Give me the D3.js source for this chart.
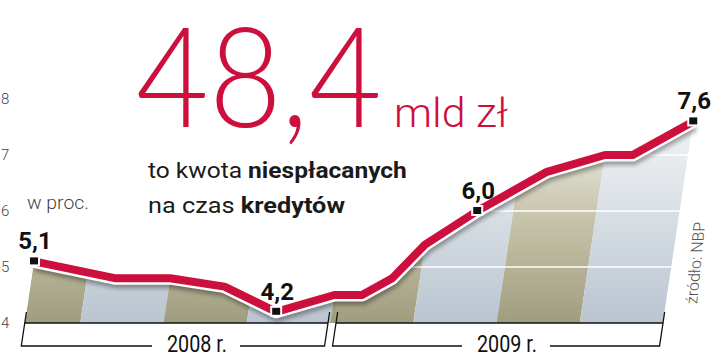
<!DOCTYPE html>
<html><head><meta charset="utf-8">
<script src="https://cdnjs.cloudflare.com/ajax/libs/d3/7.8.5/d3.min.js"></script>
<style>
html,body{margin:0;padding:0;background:#fff;} svg{display:block}
@font-face{font-family:"TitleLato";src:local("Lato Light"),local("Lato-Light"),local("Lato Regular"),local("Lato-Regular");
  font-weight:300;ascent-override:76%;descent-override:18%;line-gap-override:0%;}
</style>
</head><body>
<svg id="chart" width="720" height="357"></svg>
<script>
// ---- data ----
const months = [1, 4, 6, 8, 10, 12, 13, 14, 15, 16.7, 19, 21, 22, 24]; // month-ends counted from start of 2008
const values = [5.1, 4.8, 4.8, 4.65, 4.2, 4.5, 4.5, 4.8, 5.4, 6.0, 6.7, 7.0, 7.0, 7.6];
const labelIdx = [0, 4, 9, 13];
const labelText = ["5,1", "4,2", "6,0", "7,6"];
const yTicks = [4, 5, 6, 7, 8];
const gridValues = [5, 6, 7];
const quarterStarts = [1, 3, 6, 9, 12, 15, 18, 21];
const quarterEnds = [3, 6, 9, 12, 15, 18, 21, 24];
const years = ["2008 r.", "2009 r."];
const yearStart = [1, 12];
const yearEnd = [12, 24];
const titleValue = "48,4";
const titleUnit = "mld zł";
const unitLabel = "w proc.";
const sourceLabel = "źródło: NBP";

function draw() {
const svg = d3.select("#chart");
svg.selectAll("*").remove();
const y0 = 323, K = 0.15, RED = "#cc0f3c";
const x = d3.scaleLinear().domain([0, 24]).range([-3, 663]);
const y = d3.scaleLinear().domain([4, 8]).range([323, 99]);
const sx = (m, yy) => x(m) + K * (y0 - yy);
const pts = months.map((m, i) => ({ m, v: values[i] }));
const lineGen = d3.line().x(d => sx(d.m, y(d.v))).y(d => y(d.v));

// scale a text horizontally so that its width is w (start anchored at x)
function fit(sel, x0, yb, w) {
  const n = sel.node().getComputedTextLength();
  sel.attr("x", 0).attr("y", 0).attr("transform", `translate(${x0},${yb}) scale(${w / n},1)`);
  return sel;
}

const defs = svg.append("defs");
function grad(id, stops) {
  const g = defs.append("linearGradient").attr("id", id)
    .attr("gradientUnits", "userSpaceOnUse")
    .attr("x1", 0).attr("y1", y0).attr("x2", 0).attr("y2", y(7.9));
  stops.forEach(s => g.append("stop").attr("offset", s[0]).attr("stop-color", s[1]));
}
grad("olive", [[0, "#a09d7f"], [0.45, "#c4c1a7"], [1, "#f6f6f1"]]);
grad("blue", [[0, "#bac5d0"], [0.45, "#d5dce2"], [1, "#f7f8f9"]]);

const areaPts = pts.map(d => [sx(d.m, y(d.v)), y(d.v)]).concat([[x(24), y0], [x(1), y0]]);
defs.append("clipPath").attr("id", "areaClip")
  .append("path").attr("d", "M" + areaPts.map(p => p.join(",")).join("L") + "Z");

const f = defs.append("filter").attr("id", "blur").attr("x", "-10%").attr("y", "-20%").attr("width", "120%").attr("height", "140%");
f.append("feGaussianBlur").attr("stdDeviation", 2.2);

// columns
const yt = y(8.4);
const cols = svg.append("g").attr("clip-path", "url(#areaClip)");
quarterStarts.forEach((ms, i) => {
  const me = quarterEnds[i];
  const p = [[x(ms), y0], [x(me), y0], [sx(me, yt), yt], [sx(ms, yt), yt]];
  cols.append("path").attr("d", "M" + p.map(q => q.join(",")).join("L") + "Z")
    .attr("fill", i % 2 === 0 ? "url(#olive)" : "url(#blue)");
});
gridValues.forEach(v => {
  cols.append("line").attr("x1", 0).attr("x2", 720).attr("y1", y(v)).attr("y2", y(v))
    .attr("stroke", "#fff").attr("stroke-width", 1.6);
});

// axis line with break
const axisG = svg.append("g").attr("stroke", "#111").attr("fill", "none").attr("stroke-width", 1.5);
axisG.append("line").attr("x1", x(1)).attr("x2", x(12) - 2).attr("y1", y0).attr("y2", y0);
axisG.append("line").attr("x1", x(12) + 6).attr("x2", x(24)).attr("y1", y0).attr("y2", y0);

// year brackets
const yearLabelX = [197, 507];
const brY = 346, brTop = 312;
years.forEach((t, i) => {
  const xl = x(yearStart[i]) + (i === 1 ? 6 : 0);
  const xr = x(yearEnd[i]) - (i === 0 ? 2 : 0);
  const txt = svg.append("text").attr("font-family", "Roboto").attr("font-size", 24)
    .attr("fill", "#111").text(t);
  fit(txt, yearLabelX[i] - 30, 352, 60);
  const tl = yearLabelX[i] - 30 - 15, tr = yearLabelX[i] + 30 + 13;
  axisG.append("path").attr("d",
    `M${xl + K * (y0 - brTop)},${brTop}L${xl + K * (y0 - brY)},${brY}H${tl}` +
    `M${tr},${brY}H${xr + K * (y0 - brY)}L${xr + K * (y0 - brTop)},${brTop}`)
    .attr("stroke-width", 1.3);
});

// line: shadow, halo, red
svg.append("path").datum(pts).attr("d", lineGen).attr("fill", "none")
  .attr("stroke", "#000").attr("stroke-opacity", 0.35).attr("stroke-width", 12)
  .attr("transform", "translate(1,4)").attr("filter", "url(#blur)");
svg.append("path").datum(pts).attr("d", lineGen).attr("fill", "none")
  .attr("stroke", "#fff").attr("stroke-width", 13).attr("stroke-linejoin", "round");
svg.append("path").datum(pts).attr("d", lineGen).attr("fill", "none")
  .attr("stroke", RED).attr("stroke-width", 8).attr("stroke-linejoin", "round");

// markers + labels
labelIdx.forEach((idx, j) => {
  const d = pts[idx];
  const cx = sx(d.m, y(d.v)), cy = y(d.v);
  svg.append("rect").attr("x", cx - 5).attr("y", cy - 5).attr("width", 10).attr("height", 9)
    .attr("fill", "#111").attr("stroke", "#fff").attr("stroke-width", 2);
  svg.append("text").attr("x", cx + 1).attr("y", cy - 12).attr("text-anchor", "middle")
    .attr("font-family", "Roboto").attr("font-weight", 700).attr("font-size", 24)
    .attr("fill", "#111").text(labelText[j]);
});

// y axis
const ya = svg.append("g").attr("transform", "translate(0,0)")
  .call(d3.axisRight(y).tickValues(yTicks).tickSize(0).tickPadding(1).tickFormat(d3.format("d")));
ya.select(".domain").remove();
ya.selectAll("text").attr("font-family", "Roboto").attr("font-weight", 300)
  .attr("font-size", 15).attr("fill", "#444");

fit(svg.append("text").attr("font-family", "Roboto").attr("font-weight", 300)
  .attr("font-size", 18).attr("fill", "#444").text(unitLabel), 27, 209, 62);

// source
svg.append("text").attr("transform", "matrix(0.1,-1,1,0,697,304)")
  .attr("font-family", "Roboto").attr("font-weight", 300).attr("font-size", 16)
  .attr("fill", "#555").text(sourceLabel);

// title
fit(svg.append("text").attr("font-family", "TitleLato, Lato").attr("font-weight", 300)
  .attr("font-size", 140).attr("fill", RED).text(titleValue), 136, 127, 246);
fit(svg.append("text").attr("font-family", "Roboto").attr("font-weight", 300)
  .attr("font-size", 41).attr("fill", RED).text(titleUnit), 394, 127, 114);

const l1 = svg.append("text").attr("font-family", "Roboto")
  .attr("font-size", 22).attr("fill", "#1a1a1a");
l1.append("tspan").text("to kwota ");
l1.append("tspan").attr("font-weight", 700).text("niespłacanych");
fit(l1, 148, 178, 259);
const l2 = svg.append("text").attr("font-family", "Roboto")
  .attr("font-size", 22).attr("fill", "#1a1a1a");
l2.append("tspan").text("na czas ");
l2.append("tspan").attr("font-weight", 700).text("kredytów");
fit(l2, 148, 213, 197);
}

draw();
if (document.fonts && document.fonts.load) {
  document.fonts.load('300 140px "TitleLato"').then(draw, draw);
}
</script>
</body></html>
